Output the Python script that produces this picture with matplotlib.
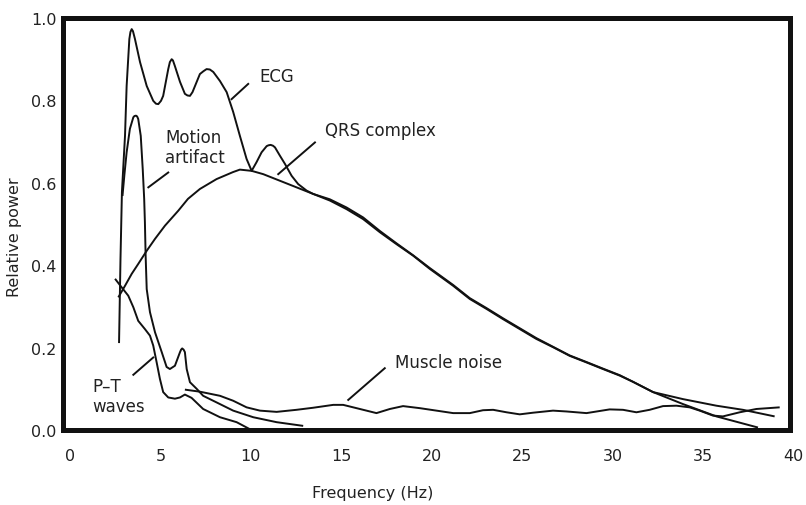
import matplotlib
matplotlib.use("Agg")
import matplotlib.pyplot as plt
from matplotlib.transforms import blended_transform_factory

plt.rcParams['font.family'] = ['DejaVu Sans']

# ---------------- data ----------------
ecg_x = [2.71, 2.79, 2.87, 3.04, 3.13, 3.28, 3.34, 3.41, 3.48, 3.59, 3.87, 4.24,
         4.60, 4.75, 4.88, 5.03, 5.15, 5.43, 5.52, 5.62, 5.69, 5.80, 6.08, 6.35,
         6.49, 6.63, 6.77, 6.91, 7.18, 7.38, 7.55, 7.73, 7.92, 8.29,
         8.66, 9.02, 9.39, 9.76, 10.04, 10.31, 10.59, 10.87, 10.97, 11.09, 11.22,
         11.33, 11.60, 11.88, 12.25, 12.61, 13.08, 13.44, 14.36, 15.29, 16.20,
         17.13, 18.05, 18.97, 19.89, 21.18, 22.10, 23.02, 23.94, 24.86, 25.78,
         26.70, 27.62, 28.55, 29.46, 30.39, 31.12, 32.23, 33.88, 35.73, 38.03]
ecg_y = [0.211, 0.415, 0.578, 0.714, 0.835, 0.949, 0.966, 0.973, 0.968, 0.949,
         0.893, 0.835, 0.799, 0.792, 0.791, 0.799, 0.811, 0.876, 0.893, 0.900,
         0.897, 0.883, 0.845, 0.816, 0.812, 0.811, 0.820, 0.835, 0.864, 0.871,
         0.876, 0.875, 0.869, 0.847, 0.820, 0.772, 0.714, 0.658, 0.629, 0.650,
         0.674, 0.689, 0.691, 0.692, 0.690, 0.686, 0.666, 0.646, 0.617, 0.597,
         0.581, 0.573, 0.560, 0.540, 0.516, 0.483, 0.453, 0.424, 0.393, 0.352,
         0.320, 0.296, 0.271, 0.247, 0.223, 0.202, 0.181, 0.165, 0.149, 0.133,
         0.117, 0.092, 0.063, 0.033, 0.006]

qrs_x = [2.67, 3.04, 3.41, 3.77, 4.24, 4.70, 5.25, 5.98, 6.52, 7.18, 8.10, 9.01,
         9.39, 10.04, 10.68, 11.60, 12.52, 13.44, 14.36, 15.29, 16.20, 17.13,
         18.05, 18.97, 19.89, 21.18, 22.10, 23.02, 23.94, 24.86, 25.78, 26.70,
         27.62, 28.55, 29.46, 30.39, 31.12, 32.23, 33.88, 35.73, 37.20, 38.95]
qrs_y = [0.322, 0.350, 0.379, 0.403, 0.435, 0.464, 0.496, 0.532, 0.561, 0.585,
         0.609, 0.626, 0.632, 0.629, 0.621, 0.605, 0.589, 0.573, 0.557, 0.536,
         0.512, 0.480, 0.451, 0.423, 0.391, 0.350, 0.318, 0.294, 0.269, 0.245,
         0.221, 0.201, 0.180, 0.164, 0.148, 0.132, 0.117, 0.092, 0.075, 0.059,
         0.049, 0.033]

motion_x = [2.90, 3.01, 3.13, 3.31, 3.50, 3.56, 3.65, 3.71, 3.77, 3.91, 4.02,
            4.10, 4.14, 4.18, 4.24, 4.42, 4.70, 5.07, 5.34, 5.52, 5.80, 6.08,
            6.14, 6.20, 6.28, 6.35, 6.45, 6.63, 7.00, 7.36, 8.10, 9.02, 10.13,
            11.42, 12.89]
motion_y = [0.568, 0.621, 0.674, 0.731, 0.759, 0.762, 0.763, 0.761, 0.755, 0.714,
            0.633, 0.561, 0.504, 0.423, 0.342, 0.286, 0.237, 0.189, 0.153, 0.148,
            0.156, 0.189, 0.195, 0.198, 0.195, 0.189, 0.148, 0.116, 0.100, 0.083,
            0.067, 0.047, 0.031, 0.019, 0.010]

pt_x = [2.49, 2.86, 3.22, 3.50, 3.77, 4.14, 4.42, 4.60, 4.79, 4.97, 5.15, 5.43,
        5.80, 6.08, 6.35, 6.72, 7.36, 8.29, 9.21, 9.94]
pt_y = [0.367, 0.346, 0.326, 0.298, 0.265, 0.245, 0.229, 0.205, 0.164, 0.124,
        0.092, 0.079, 0.076, 0.079, 0.086, 0.078, 0.051, 0.031, 0.019, 0.002]

muscle_x = [6.35, 7.18, 8.29, 9.02, 9.76, 10.50, 11.42, 12.52, 13.44, 14.55,
            15.10, 15.84, 16.94, 17.68, 18.41, 19.34, 20.26, 21.18, 22.10, 22.83,
            23.39, 24.13, 24.86, 25.60, 26.70, 27.44, 28.55, 29.83, 30.57, 31.31,
            32.04, 32.78, 33.52, 34.25, 34.81, 35.54, 36.09, 37.02, 37.94, 39.23]
muscle_y = [0.098, 0.093, 0.083, 0.071, 0.055, 0.047, 0.044, 0.049, 0.054, 0.061,
            0.061, 0.053, 0.041, 0.051, 0.058, 0.053, 0.047, 0.041, 0.041, 0.048,
            0.049, 0.043, 0.038, 0.042, 0.047, 0.045, 0.041, 0.050, 0.049, 0.043,
            0.049, 0.058, 0.059, 0.055, 0.047, 0.035, 0.033, 0.043, 0.051, 0.055]

x_ticks = [0, 5, 10, 15, 20, 25, 30, 35, 40]
y_ticks = [0.0, 0.2, 0.4, 0.6, 0.8, 1.0]
x_label = "Frequency (Hz)"
y_label = "Relative power"

# labels: (text, text x, text y, leader start, leader end, alignment)
annotations = [
    ("ECG", 11.44, 0.859, (8.93, 0.803), (9.85, 0.840), "center"),
    ("QRS complex", 14.09, 0.727, (11.51, 0.621), (13.54, 0.698), "left"),
    ("Motion\nartifact", 5.25, 0.687, (4.33, 0.589), (5.43, 0.625), "left"),
    ("P\u2013T\nwaves", 1.22, 0.083, (3.50, 0.134), (4.60, 0.176), "left"),
    ("Muscle noise", 17.96, 0.166, (15.38, 0.073), (17.40, 0.150), "left"),
]

# ---------------- figure ----------------
W, H = 806, 506
fig = plt.figure(figsize=(W / 100, H / 100), dpi=100)
ax = fig.add_axes([63.5 / W, 1 - 431 / H, (790 - 63.5) / W, (431 - 19) / H])

lw = 1.4
col = "#111111"
for xs, ys in [(ecg_x, ecg_y), (qrs_x, qrs_y), (motion_x, motion_y),
               (pt_x, pt_y), (muscle_x, muscle_y)]:
    ax.plot(xs, ys, color=col, lw=lw, solid_joinstyle="round",
            solid_capstyle="butt", clip_on=False)

XMAX = 39.8
ax.set_xlim(-0.36, XMAX)
ax.set_ylim(0, 1.0)

txtcol = "#222222"
inside = [t for t in x_ticks if t <= XMAX]
ax.set_xticks(inside)
ax.set_xticklabels([str(t) for t in inside])
ax.set_yticks(y_ticks)
ax.set_yticklabels([f"{t:.1f}" for t in y_ticks])
ax.tick_params(axis="both", length=0, labelsize=11.5, labelcolor=txtcol)
ax.tick_params(axis="x", pad=13)
ax.tick_params(axis="y", pad=5)

# tick label(s) just beyond the right limit, aligned with the other labels
fig.canvas.draw()
bb = ax.get_xticklabels()[0].get_window_extent()
for t in x_ticks:
    if t > XMAX:
        ax.text(t, bb.y1 / fig.bbox.height, str(t),
                transform=blended_transform_factory(ax.transData, fig.transFigure),
                ha="center", va="top", fontsize=11.5, color=txtcol, clip_on=False)

for s in ax.spines.values():
    s.set_linewidth(3.6)
    s.set_color("#111111")

fig.text(15 / W, 1 - 237 / H, y_label, rotation=90, ha="center", va="center",
         fontsize=11.5, color=txtcol)
fig.text(373 / W, 1 - 494 / H, x_label, ha="center", va="center",
         fontsize=11.5, color=txtcol)

for text, tx, ty, p0, p1, ha in annotations:
    ax.text(tx, ty, text, ha=ha, va="center", fontsize=12, color=txtcol,
            linespacing=1.15)
    ax.plot([p0[0], p1[0]], [p0[1], p1[1]], color=col, lw=1.4)

fig.savefig("out.png", dpi=100)
